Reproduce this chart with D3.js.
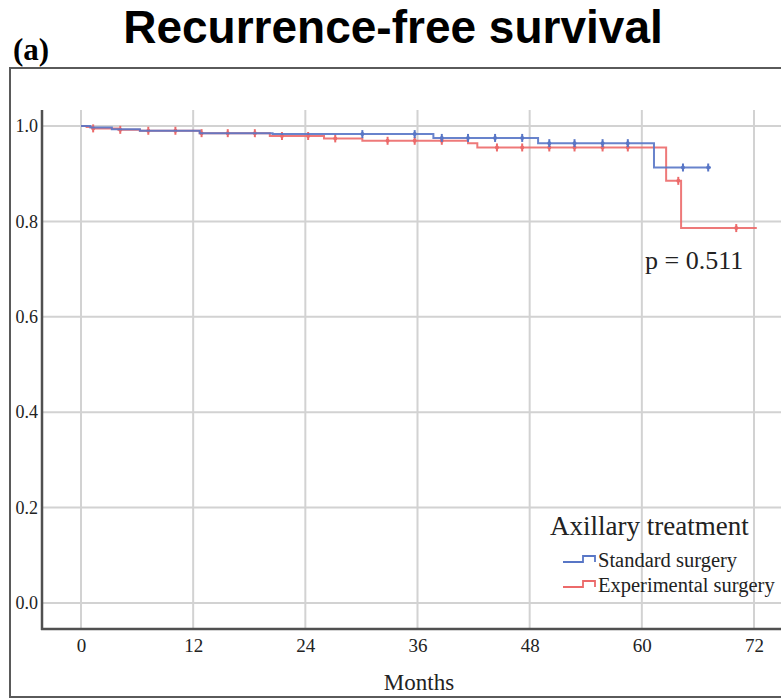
<!DOCTYPE html>
<html>
<head>
<meta charset="utf-8">
<script src="https://cdn.jsdelivr.net/npm/d3@7"></script>
<style>
  html, body { margin: 0; padding: 0; background: #fff; }
  svg { display: block; }
</style>
</head>
<body>
<svg id="chart" width="781" height="698"></svg>
<script>
// Kaplan–Meier step data (months, survival probability)
const standardTimes = [0, 1.0, 3.3, 6.3, 12.7, 20.5, 37.7, 48.9, 61.3];
const standardSurv  = [1.0, 0.997, 0.993, 0.990, 0.985, 0.983, 0.975, 0.964, 0.913];
const standardEnd   = 67.4;
const standardCensored = [30.1, 35.7, 38.6, 41.4, 44.3, 47.2, 50.1, 52.8, 55.8, 58.5, 64.4, 67.1];

const experimentalTimes = [0, 0.6, 1.3, 4.0, 6.3, 12.7, 20.2, 26.0, 30.1, 41.4, 42.4, 62.6, 64.2];
const experimentalSurv  = [1.0, 0.998, 0.995, 0.992, 0.990, 0.985, 0.979, 0.974, 0.969, 0.964, 0.955, 0.885, 0.786];
const experimentalEnd   = 72.3;
const experimentalCensored = [1.3, 4.2, 7.2, 10.1, 12.9, 15.7, 18.6, 21.5, 24.3, 27.2, 32.8, 35.7, 38.6,
                              44.5, 47.2, 50.1, 52.8, 55.8, 58.5, 63.9, 70.1];

const xTicks = [0, 12, 24, 36, 48, 60, 72];
const yTicks = [0.0, 0.2, 0.4, 0.6, 0.8, 1.0];
const groupNames = ["Standard surgery", "Experimental surgery"];
const groupColors = ["#5876c6", "#ec6a6a"];

const svg = d3.select("#chart");
const serif = "'Liberation Serif', 'Times New Roman', serif";
const sans = "'Liberation Sans', Arial, sans-serif";

const x = d3.scaleLinear().domain([0, 72]).range([81, 754]);
const y = d3.scaleLinear().domain([0, 1]).range([603, 126]);

const plotLeft = 42, plotRight = 781, plotTop = 110, plotBottom = 629;

// Outer frame
svg.append("rect")
  .attr("x", 10).attr("y", 68).attr("width", 790).attr("height", 629)
  .attr("fill", "none").attr("stroke", "#5a5a5a").attr("stroke-width", 2);

// Title and panel label
svg.append("text")
  .attr("x", 393).attr("y", 43)
  .attr("text-anchor", "middle")
  .attr("font-family", sans).attr("font-weight", "bold").attr("font-size", 46)
  .text("Recurrence-free survival");
svg.append("text")
  .attr("x", 13).attr("y", 60)
  .attr("font-family", serif).attr("font-weight", "bold").attr("font-size", 31)
  .text("(a)");

// Grid lines
const grid = svg.append("g").attr("stroke", "#d2d2d2").attr("stroke-width", 2);
grid.selectAll("line.v").data(xTicks).join("line")
  .attr("class", "v")
  .attr("x1", d => x(d)).attr("x2", d => x(d))
  .attr("y1", plotTop).attr("y2", plotBottom);
grid.selectAll("line.h").data(yTicks).join("line")
  .attr("class", "h")
  .attr("x1", plotLeft).attr("x2", plotRight)
  .attr("y1", d => y(d)).attr("y2", d => y(d));

// Axes (labels via d3 axes, axis lines drawn separately)
const xAxis = d3.axisBottom(x).tickValues(xTicks).tickFormat(d3.format("d")).tickSize(0).tickPadding(10);
const gx = svg.append("g").attr("transform", `translate(0,${plotBottom})`).call(xAxis);
gx.select(".domain").remove();
gx.selectAll("text").attr("font-family", serif).attr("font-size", 19).attr("fill", "#222");

const yAxis = d3.axisLeft(y).tickValues(yTicks).tickFormat(d3.format(".1f")).tickSize(0).tickPadding(4);
const gy = svg.append("g").attr("transform", `translate(${plotLeft},0)`).call(yAxis);
gy.select(".domain").remove();
gy.selectAll("text").attr("font-family", serif).attr("font-size", 18).attr("fill", "#222");

svg.append("line")
  .attr("x1", plotLeft).attr("x2", plotLeft).attr("y1", plotTop).attr("y2", plotBottom + 1)
  .attr("stroke", "#505050").attr("stroke-width", 2.5);
svg.append("line")
  .attr("x1", plotLeft - 1).attr("x2", plotRight).attr("y1", plotBottom).attr("y2", plotBottom)
  .attr("stroke", "#505050").attr("stroke-width", 2.5);

svg.append("text")
  .attr("x", 419).attr("y", 690)
  .attr("text-anchor", "middle")
  .attr("font-family", serif).attr("font-size", 23).attr("fill", "#222")
  .text("Months");

// Survival curves
const series = [
  { times: standardTimes, surv: standardSurv, end: standardEnd, censored: standardCensored, color: groupColors[0] },
  { times: experimentalTimes, surv: experimentalSurv, end: experimentalEnd, censored: experimentalCensored, color: groupColors[1] }
];

const stepLine = d3.line().x(d => x(d[0])).y(d => y(d[1])).curve(d3.curveStepAfter);

function survivalAt(s, t) {
  let v = s.surv[0];
  for (let i = 0; i < s.times.length; i++) if (s.times[i] <= t) v = s.surv[i];
  return v;
}

series.slice().reverse().forEach(s => {
  const pts = s.times.map((t, i) => [t, s.surv[i]]);
  pts.push([s.end, s.surv[s.surv.length - 1]]);
  const g = svg.append("g");
  g.append("path")
    .attr("d", stepLine(pts))
    .attr("fill", "none").attr("stroke", s.color).attr("stroke-width", 2).attr("stroke-opacity", 0.9);
  // censoring ticks
  g.selectAll("line.c").data(s.censored).join("line")
    .attr("class", "c")
    .attr("x1", d => x(d)).attr("x2", d => x(d))
    .attr("y1", d => y(survivalAt(s, d)) - 4).attr("y2", d => y(survivalAt(s, d)) + 4)
    .attr("stroke", s.color).attr("stroke-width", 2);
  g.selectAll("circle.c").data(s.censored).join("circle")
    .attr("class", "c")
    .attr("cx", d => x(d)).attr("cy", d => y(survivalAt(s, d)))
    .attr("r", 2).attr("fill", s.color);
});

// p-value annotation
svg.append("text")
  .attr("x", 645).attr("y", 269)
  .attr("font-family", serif).attr("font-size", 26).attr("fill", "#222")
  .text("p = 0.511");

// Legend
svg.append("text")
  .attr("x", 550).attr("y", 535)
  .attr("font-family", serif).attr("font-size", 27).attr("fill", "#222")
  .text("Axillary treatment");

const legendRows = [562, 587];
groupNames.forEach((name, i) => {
  const ly = legendRows[i];
  svg.append("path")
    .attr("d", `M563,${ly}H583V${ly - 6}H595V${ly}`)
    .attr("fill", "none").attr("stroke", groupColors[i]).attr("stroke-width", 1.8);
  svg.append("text")
    .attr("x", 598).attr("y", ly + 5)
    .attr("font-family", serif).attr("font-size", 20.5).attr("fill", "#222")
    .text(name);
});
</script>
</body>
</html>
